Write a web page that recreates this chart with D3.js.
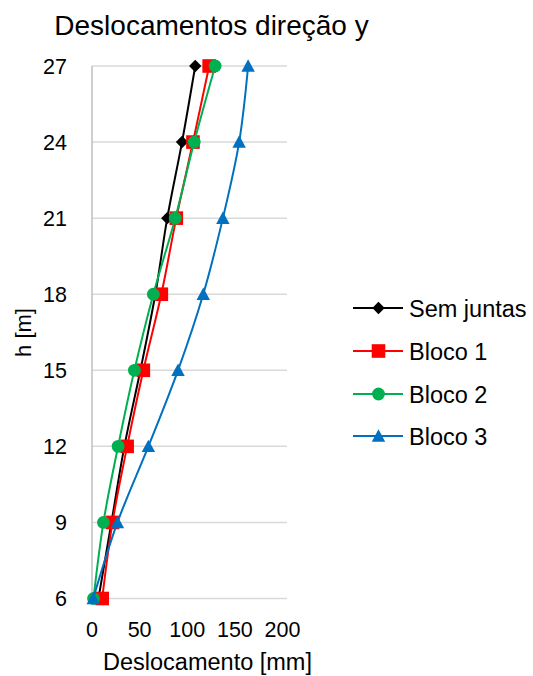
<!DOCTYPE html>
<html>
<head>
<meta charset="utf-8">
<script src="https://cdn.jsdelivr.net/npm/d3@7"></script>
<style>
  body { margin: 0; background: #fff; }
  svg { display: block; font-family: "Liberation Sans", Arial, sans-serif; }
</style>
</head>
<body>
<svg id="chart" width="533" height="676"></svg>
<script>
// Storey heights (m) and horizontal displacement (mm) per configuration
const heights = [6, 9, 12, 15, 18, 21, 24, 27];
const semJuntas = [6.8, 20.4, 34, 50.8, 66.5, 79, 94.5, 108.4];
const bloco1 = [10.7, 21.5, 36.9, 53.9, 72.8, 88.5, 106, 123];
const bloco2 = [1.6, 12, 27.4, 44.5, 64.4, 87.4, 107.3, 129.3];
const bloco3 = [1.3, 26.7, 59.2, 90.3, 116.8, 137.4, 154.5, 163.9];
const yTicks = [6, 9, 12, 15, 18, 21, 24, 27];
const xTicks = [0, 50, 100, 150, 200];

// Marker shapes: square diamond, square, circle, isosceles triangle
const diamond = { draw(ctx, r) { ctx.moveTo(0, -r); ctx.lineTo(r, 0); ctx.lineTo(0, r); ctx.lineTo(-r, 0); ctx.closePath(); } };
const square = { draw(ctx, r) { ctx.rect(-r, -r, 2 * r, 2 * r); } };
const circle = { draw(ctx, r) { ctx.moveTo(r, 0); ctx.arc(0, 0, r, 0, 2 * Math.PI); } };
const triangle = { draw(ctx, r) { ctx.moveTo(0, -r * 1.05); ctx.lineTo(r * 1.05, r * 0.9); ctx.lineTo(-r * 1.05, r * 0.9); ctx.closePath(); } };

const series = [
  { name: "Sem juntas", values: semJuntas, color: "#000000", symbol: diamond, r: 6.2 },
  { name: "Bloco 1", values: bloco1, color: "#ff0000", symbol: square, r: 6.8 },
  { name: "Bloco 2", values: bloco2, color: "#00b050", symbol: circle, r: 6.4 },
  { name: "Bloco 3", values: bloco3, color: "#0070c0", symbol: triangle, r: 6.4 }
];

const svg = d3.select("#chart");
const x = d3.scaleLinear().domain([0, 200]).range([92, 282.5]);
const y = d3.scaleLinear().domain([6, 27]).range([598.5, 66]);
const plotRight = 287;

// Horizontal gridlines
svg.append("g")
  .selectAll("line")
  .data(yTicks)
  .join("line")
  .attr("x1", x(0)).attr("x2", plotRight)
  .attr("y1", d => y(d)).attr("y2", d => y(d))
  .attr("stroke", "#d9d9d9").attr("stroke-width", 1.5);

// Vertical axis line
svg.append("line")
  .attr("x1", x(0)).attr("x2", x(0))
  .attr("y1", y(27)).attr("y2", y(6))
  .attr("stroke", "#bfbfbf").attr("stroke-width", 1.5);

// Y tick labels
svg.append("g")
  .selectAll("text")
  .data(yTicks)
  .join("text")
  .attr("x", 67).attr("y", d => y(d) + 7.5)
  .attr("text-anchor", "end")
  .attr("font-size", 21.5)
  .attr("fill", "#000")
  .text(d => d);

// X tick labels
svg.append("g")
  .selectAll("text")
  .data(xTicks)
  .join("text")
  .attr("x", d => x(d)).attr("y", 637)
  .attr("text-anchor", "middle")
  .attr("font-size", 21.5)
  .attr("fill", "#000")
  .text(d => d);

// Title and axis titles
svg.append("text")
  .attr("x", 211.5).attr("y", 35)
  .attr("text-anchor", "middle")
  .attr("font-size", 28)
  .text("Deslocamentos direção y");

svg.append("text")
  .attr("x", 207.5).attr("y", 670)
  .attr("text-anchor", "middle")
  .attr("font-size", 23.5)
  .text("Deslocamento [mm]");

svg.append("text")
  .attr("transform", "translate(30.5,332.5) rotate(-90)")
  .attr("text-anchor", "middle")
  .attr("font-size", 22)
  .text("h [m]");

// Series lines and markers
const line = d3.line()
  .x(d => x(d[0]))
  .y(d => y(d[1]))
  .curve(d3.curveCatmullRom.alpha(0.5));

series.forEach(s => {
  const pts = s.values.map((v, i) => [v, heights[i]]);
  const g = svg.append("g");
  g.append("path")
    .attr("d", line(pts))
    .attr("fill", "none")
    .attr("stroke", s.color)
    .attr("stroke-width", 2);
  g.selectAll("path.m")
    .data(pts)
    .join("path")
    .attr("class", "m")
    .attr("transform", d => `translate(${x(d[0])},${y(d[1])})`)
    .attr("d", d3.symbol().type(s.symbol).size(s.r))
    .attr("fill", s.color);
});

// Legend
const legend = svg.append("g");
const legendY = [308, 351, 394, 436];
series.forEach((s, i) => {
  const ly = legendY[i];
  legend.append("line")
    .attr("x1", 353).attr("x2", 403)
    .attr("y1", ly).attr("y2", ly)
    .attr("stroke", s.color).attr("stroke-width", 2);
  legend.append("path")
    .attr("transform", `translate(378.5,${ly})`)
    .attr("d", d3.symbol().type(s.symbol).size(s.r))
    .attr("fill", s.color);
  legend.append("text")
    .attr("x", 409).attr("y", ly + 9)
    .attr("font-size", 23.5)
    .text(s.name);
});
</script>
</body>
</html>
